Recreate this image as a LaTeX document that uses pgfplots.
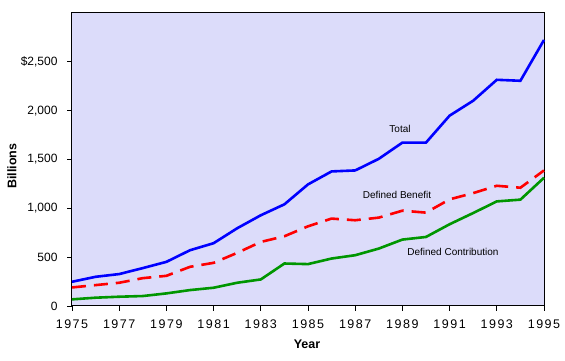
\documentclass[border=0pt]{standalone}
\usepackage{pgfplots}
\pgfplotsset{compat=1.18}
\usepackage{fontspec}
\setmainfont{Liberation Sans}
\definecolor{bg}{RGB}{220,220,250}
\definecolor{dgreen}{RGB}{0,150,0}
\begin{document}
\begin{tikzpicture}[x=1pt,y=1pt]
\path (-72,-55) rectangle (493,293+13);
\begin{axis}[
  at={(0,0)}, anchor=south west,
  scale only axis, width=472pt, height=293pt,
  xmin=1975, xmax=1995, ymin=0, ymax=3000,
  axis background/.style={fill=bg},
  axis line style={black, line width=1pt},
  xtick={1975,1977,...,1995},
  ytick={0,500,1000,1500,2000,2500},
  yticklabels={0,500,{1,000},{1,500},{2,000},{\$2,500}},
  xticklabel style={font=\fontsize{12.5}{14}\selectfont\addfontfeatures{LetterSpace=12}, /pgf/number format/1000 sep={}, yshift=-5pt},
  yticklabel style={font=\fontsize{12}{14}\selectfont, xshift=-6pt},
  /pgf/number format/assume math mode=true,
  tick align=outside, major tick length=5pt,
  tick style={black, line width=0.8pt},
  xtick pos=bottom, ytick pos=left,
  clip=false,
]
\addplot[blue, line width=2.6pt] coordinates {
(1975,248) (1976,299) (1977,327) (1978,388) (1979,452) (1980,571) (1981,643)
(1982,796) (1983,929) (1984,1041) (1985,1245) (1986,1378) (1987,1388) (1988,1507)
(1989,1673) (1990,1673) (1991,1949) (1992,2102) (1993,2316) (1994,2306) (1995,2724)};
\addplot[red, line width=2.6pt, dash pattern=on 14pt off 8pt] coordinates {
(1975,190) (1976,214) (1977,238) (1978,285) (1979,309) (1980,401) (1981,442)
(1982,544) (1983,656) (1984,714) (1985,816) (1986,895) (1987,878) (1988,905)
(1989,976) (1990,956) (1991,1092) (1992,1156) (1993,1231) (1994,1211) (1995,1388)};
\addplot[dgreen, line width=2.6pt] coordinates {
(1975,68) (1976,85) (1977,95) (1978,102) (1979,129) (1980,163) (1981,187)
(1982,238) (1983,272) (1984,435) (1985,429) (1986,486) (1987,520) (1988,588)
(1989,680) (1990,707) (1991,837) (1992,952) (1993,1071) (1994,1089) (1995,1313)};
\node[font=\fontsize{10}{11}\selectfont] at (axis cs:1988.9,1812) {Total};
\node[font=\fontsize{10}{11}\selectfont] at (axis cs:1988.77,1139) {Defined Benefit};
\node[font=\fontsize{10}{11}\selectfont] at (axis cs:1991.14,556) {Defined Contribution};
\end{axis}
\node[font=\fontsize{12.5}{14}\selectfont\bfseries] at (235,-38) {Year};
\node[font=\fontsize{12.5}{14}\selectfont\bfseries, rotate=90] at (-60,140) {Billions};
\end{tikzpicture}
\end{document}
